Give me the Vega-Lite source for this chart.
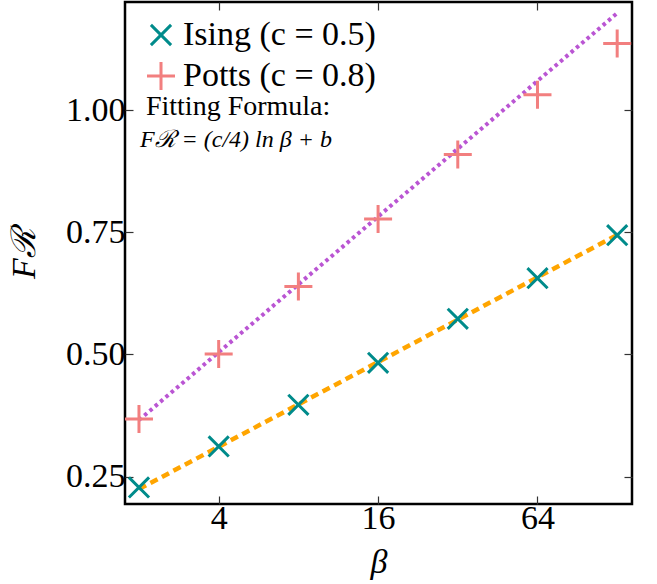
{
  "$schema": "https://vega.github.io/schema/vega-lite/v6.json",
  "width": 507,
  "height": 502,
  "autosize": {"type": "none"},
  "padding": {"left": 125, "top": 2, "right": 25, "bottom": 80},
  "background": "white",
  "config": {
    "view": {"stroke": "black", "strokeWidth": 2.5},
    "font": "Liberation Serif",
    "axis": {
      "domain": false, "grid": false, "tickSize": -8, "tickColor": "#333", "tickWidth": 1.2,
      "labelFont": "Liberation Serif", "labelFontSize": 34, "labelColor": "black",
      "titleFont": "Liberation Serif", "titleFontWeight": "normal", "titleFontStyle": "italic",
      "titleFontSize": 34, "titleColor": "black"
    },
    "legend": {
      "padding": 0, "labelFont": "Liberation Serif", "labelFontSize": 34, "labelColor": "black", "labelLimit": 0,
      "symbolStrokeWidth": 3, "symbolSize": 784, "labelOffset": 5, "rowPadding": 4
    }
  },
  "datasets": {
    "points": [
      {"beta": 2, "F": 0.228, "series": "Ising (c = 0.5)"},
      {"beta": 4, "F": 0.312, "series": "Ising (c = 0.5)"},
      {"beta": 8, "F": 0.397, "series": "Ising (c = 0.5)"},
      {"beta": 16, "F": 0.483, "series": "Ising (c = 0.5)"},
      {"beta": 32, "F": 0.573, "series": "Ising (c = 0.5)"},
      {"beta": 64, "F": 0.656, "series": "Ising (c = 0.5)"},
      {"beta": 128, "F": 0.744, "series": "Ising (c = 0.5)"},
      {"beta": 2, "F": 0.368, "series": "Potts (c = 0.8)"},
      {"beta": 4, "F": 0.501, "series": "Potts (c = 0.8)"},
      {"beta": 8, "F": 0.639, "series": "Potts (c = 0.8)"},
      {"beta": 16, "F": 0.777, "series": "Potts (c = 0.8)"},
      {"beta": 32, "F": 0.909, "series": "Potts (c = 0.8)"},
      {"beta": 64, "F": 1.031, "series": "Potts (c = 0.8)"},
      {"beta": 128, "F": 1.136, "series": "Potts (c = 0.8)"}
    ],
    "fits": [
      {"beta": 2, "F": 0.2246, "model": "Ising"},
      {"beta": 128, "F": 0.7445, "model": "Ising"},
      {"beta": 2, "F": 0.366, "model": "Potts"},
      {"beta": 128, "F": 1.198, "model": "Potts"}
    ],
    "notes": [
      {"line": "Fitting Formula:"}
    ]
  },
  "layer": [
    {
      "data": {"name": "fits"},
      "transform": [{"filter": "datum.model == 'Ising'"}],
      "mark": {"type": "line", "color": "#ffa500", "strokeWidth": 4.5, "strokeDash": [8, 5]},
      "encoding": {
        "x": {"field": "beta", "type": "quantitative", "scale": {"type": "log", "base": 2, "domain": [1.771, 145.6], "nice": false},
              "axis": {"orient": "top", "values": [4, 16, 64], "labels": false, "title": null}},
        "y": {"field": "F", "type": "quantitative", "scale": {"domain": [0.1942, 1.2209], "nice": false, "zero": false},
              "axis": {"orient": "right", "values": [0.25, 0.5, 0.75, 1.0], "labels": false, "title": null}}
      }
    },
    {
      "data": {"name": "fits"},
      "transform": [{"filter": "datum.model == 'Potts'"}],
      "mark": {"type": "line", "color": "#ba55d3", "strokeWidth": 4, "strokeDash": [3.5, 3.5]},
      "encoding": {
        "x": {"field": "beta", "type": "quantitative", "scale": {"type": "log", "base": 2, "domain": [1.771, 145.6], "nice": false}, "axis": null},
        "y": {"field": "F", "type": "quantitative", "scale": {"domain": [0.1942, 1.2209], "nice": false, "zero": false}, "axis": null}
      }
    },
    {
      "data": {"name": "points"},
      "mark": {"type": "point", "filled": false, "strokeWidth": 3, "opacity": 1, "size": 784},
      "encoding": {
        "x": {"field": "beta", "type": "quantitative", "scale": {"type": "log", "base": 2, "domain": [1.771, 145.6], "nice": false},
              "axis": {"orient": "bottom", "values": [4, 16, 64], "format": "d", "labelPadding": 5, "title": "β", "titlePadding": 10}},
        "y": {"field": "F", "type": "quantitative", "scale": {"domain": [0.1942, 1.2209], "nice": false, "zero": false},
              "axis": {"orient": "left", "values": [0.25, 0.5, 0.75, 1.0], "format": ".2f", "labelPadding": 8, "title": "Fℛ", "titlePadding": 24}},
        "color": {"field": "series", "type": "nominal",
                  "scale": {"domain": ["Ising (c = 0.5)", "Potts (c = 0.8)"], "range": ["#008b8b", "#f27f7f"]},
                  "legend": {"orient": "none", "legendX": 19, "legendY": 16, "title": null}},
        "shape": {"field": "series", "type": "nominal",
                  "scale": {"domain": ["Ising (c = 0.5)", "Potts (c = 0.8)"], "range": ["M-0.72,-0.72L0.72,0.72M-0.72,0.72L0.72,-0.72", "M-1,0L1,0M0,-1L0,1"]},
                  "legend": {"orient": "none", "legendX": 19, "legendY": 16, "title": null}}
      }
    },
    {
      "data": {"name": "notes"},
      "mark": {"type": "text", "text": "Fitting Formula:", "align": "left", "baseline": "alphabetic", "fontSize": 28, "font": "Liberation Serif", "color": "black"},
      "encoding": {
        "x": {"datum": 2.125, "type": "quantitative", "scale": {"type": "log", "base": 2, "domain": [1.771, 145.6], "nice": false}, "axis": null},
        "y": {"datum": 0.9898, "type": "quantitative", "scale": {"domain": [0.1942, 1.2209], "nice": false, "zero": false}, "axis": null}
      }
    },
    {
      "data": {"name": "notes"},
      "mark": {"type": "text", "text": "Fℛ = (c/4) ln β + b", "align": "left", "baseline": "alphabetic", "fontSize": 24, "fontStyle": "italic", "font": "Liberation Serif", "color": "black"},
      "encoding": {
        "x": {"datum": 2.017, "type": "quantitative", "scale": {"type": "log", "base": 2, "domain": [1.771, 145.6], "nice": false}, "axis": null},
        "y": {"datum": 0.9243, "type": "quantitative", "scale": {"domain": [0.1942, 1.2209], "nice": false, "zero": false}, "axis": null}
      }
    }
  ],
  "resolve": {"axis": {"x": "independent", "y": "independent"}}
}
